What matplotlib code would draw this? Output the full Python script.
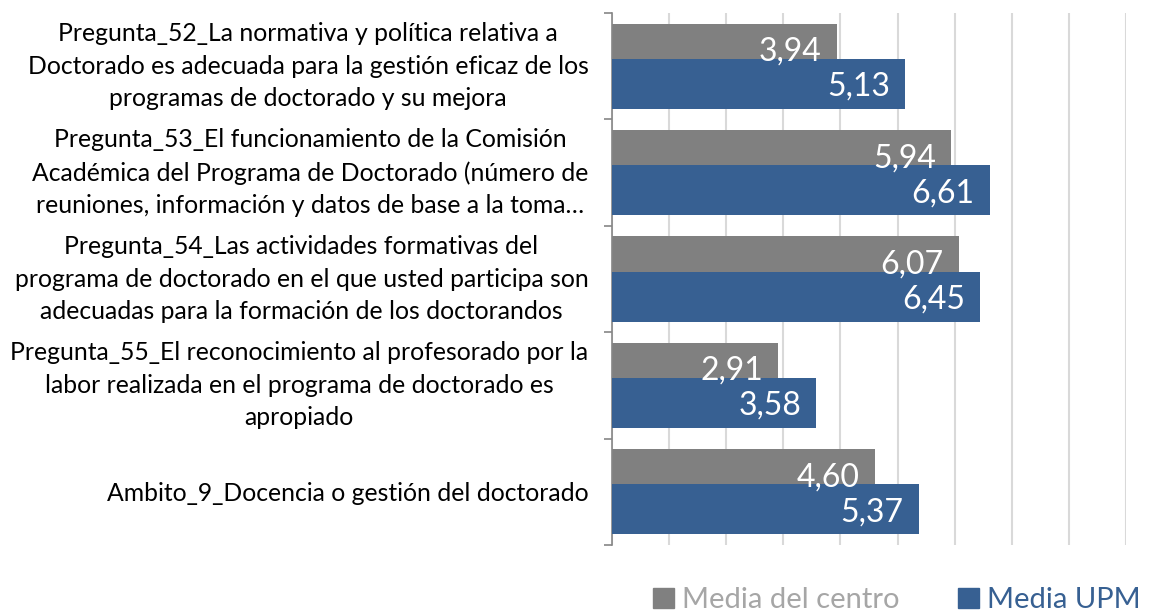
import matplotlib
matplotlib.use("Agg")
import matplotlib.pyplot as plt
from matplotlib.patches import Patch
import numpy as np

categories = [
    "Pregunta_52_La normativa y política relativa a\nDoctorado es adecuada para la gestión eficaz de los\nprogramas de doctorado y su mejora",
    "Pregunta_53_El funcionamiento de la Comisión\nAcadémica del Programa de Doctorado (número de\nreuniones, información y datos de base a la toma…",
    "Pregunta_54_Las actividades formativas del\nprograma de doctorado en el que usted participa son\nadecuadas para la formación de los doctorandos",
    "Pregunta_55_El reconocimiento al profesorado por la\nlabor realizada en el programa de doctorado es\napropiado",
    "Ambito_9_Docencia o gestión del doctorado",
]
media_centro = [3.94, 5.94, 6.07, 2.91, 4.60]
media_upm = [5.13, 6.61, 6.45, 3.58, 5.37]
series_names = ["Media del centro", "Media UPM"]

GRAY = "#808080"
BLUE = "#376092"
FONT = "Lato"

plt.rcParams['font.family'] = [FONT, 'DejaVu Sans']

fig = plt.figure(figsize=(11.71, 6.12), dpi=100)
ax = fig.add_axes([612/1171, (612-545)/612, (1126-612)/1171, (545-13)/612])

y = np.arange(len(categories))
h = 0.47
off = 0.165
ax.barh(y - off, media_centro, height=h, color=GRAY, zorder=2)
ax.barh(y + off, media_upm, height=h, color=BLUE, zorder=3)

for vals, yy, z in [(media_centro, y - off, 4), (media_upm, y + off, 5)]:
    for v, yc in zip(vals, yy):
        ax.annotate(f"{v:.2f}".replace(".", ","), xy=(v, yc), xytext=(-11, 0),
                    textcoords="offset points", ha="right", va="center_baseline",
                    color="white", fontsize=23, zorder=z)

ax.set_xlim(0, 9)
ax.set_ylim(len(categories) - 0.5, -0.5)
ax.set_xticks(np.arange(0, 10, 1))
ax.xaxis.grid(True, color="#D9D9D9", linewidth=1.5, zorder=0)
ax.set_axisbelow(True)
ax.tick_params(axis="x", length=0, labelbottom=False)

ax.set_yticks(np.arange(-0.5, len(categories), 1.0))
ax.set_yticklabels([])
ax.set_yticks(y, minor=True)
labels = ax.set_yticklabels(categories, minor=True, fontsize=17.8, ha="right",
                            multialignment="center", linespacing=1.5)
for lab in labels:
    if "\n" in lab.get_text():
        lab.set_va("center")
ax.tick_params(axis="y", which="major", direction="out", length=6, color="#868686", width=1.2)
ax.tick_params(axis="y", which="minor", length=0, pad=17)

for s in ["top", "right", "bottom"]:
    ax.spines[s].set_visible(False)
ax.spines["left"].set_color("#868686")
ax.spines["left"].set_linewidth(1.2)

handles = [Patch(color=GRAY), Patch(color=BLUE)]
fig.legend(handles, series_names, loc="lower center", bbox_to_anchor=(897/1171, -0.045),
           ncol=2, frameon=False, fontsize=21, labelcolor=["#A6A6A6", BLUE],
           handlelength=0.7, handleheight=0.7, handletextpad=0.3, columnspacing=2.0)

fig.savefig("out.png", dpi=100)
